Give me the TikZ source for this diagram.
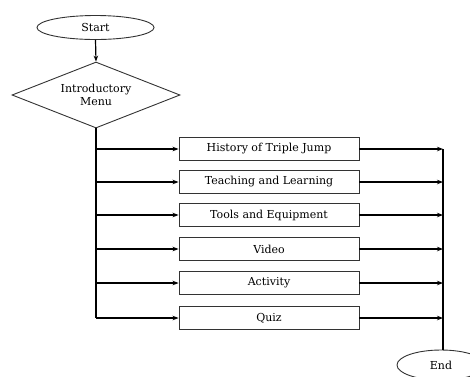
\documentclass[tikz,border=0pt]{standalone}
\usepackage{fontspec}
\setmainfont{DejaVu Serif}
\usetikzlibrary{shapes.geometric,arrows.meta}
\begin{document}
\begin{tikzpicture}[x=1pt,y=1pt,
  box/.style={draw=black!80,line width=0.9pt,minimum width=180pt,minimum height=23pt,inner sep=0pt,font=\fontsize{11}{12.5}\selectfont},
  term/.style={draw=black!80,line width=0.9pt,ellipse,inner sep=0pt,font=\fontsize{11}{12.5}\selectfont},
  conn/.style={line width=1.8pt,-{Stealth[length=6pt,width=4.5pt]}},
  trunk/.style={line width=2pt}]
\useasboundingbox (0,0) rectangle (470,-376);
\node[term,minimum width=117pt,minimum height=24pt] (start) at (95.5,-27.5) {Start};
\node[diamond,draw=black!80,line width=0.9pt,aspect=2.55,minimum width=168pt,minimum height=66pt,inner sep=0pt,align=center,font=\fontsize{11}{13}\selectfont] (menu) at (96,-95) {Introductory\\Menu};
\draw[line width=1.2pt,-{Stealth[length=6pt,width=4.5pt]}] (start.south) -- (menu.north);
\node[box] (b1) at (269,-149) {History of Triple Jump};
\node[box] (b2) at (269,-182) {Teaching and Learning};
\node[box] (b3) at (269,-215) {Tools and Equipment};
\node[box] (b4) at (269,-249) {Video};
\node[box] (b5) at (269,-283) {Activity};
\node[box] (b6) at (269,-318) {Quiz};
\coordinate (tb) at (96,-318);
\draw[trunk] (menu.south) -- (tb);
\foreach \i in {1,...,6}{
  \draw[conn] (menu.south |- b\i) -- (b\i.west);
}
\node[term,minimum width=88pt,minimum height=30pt] (end) at (441,-365) {End};
\coordinate (rt) at (443,-149);
\draw[trunk] (rt) -- (rt |- end.north);
\foreach \i in {1,...,6}{
  \draw[conn] (b\i.east) -- (rt |- b\i);
}
\end{tikzpicture}
\end{document}
